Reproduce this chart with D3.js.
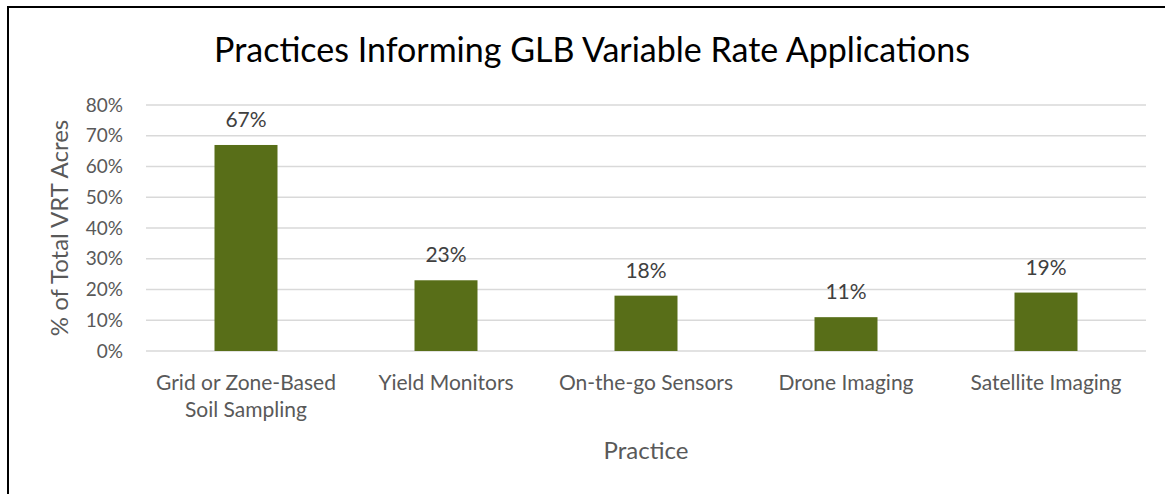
<!DOCTYPE html>
<html>
<head>
<meta charset="utf-8">
<script src="https://cdn.jsdelivr.net/npm/d3@7"></script>
<style>
  body { margin: 0; background: #fff; }
  text { font-family: Lato, "Open Sans", sans-serif; }
</style>
</head>
<body>
<div id="chart"></div>
<script>
// chart data
var categories = ["Grid or Zone-Based\nSoil Sampling", "Yield Monitors", "On-the-go Sensors", "Drone Imaging", "Satellite Imaging"];
var values = [0.67, 0.23, 0.18, 0.11, 0.19];
var yTicks = [0, 0.1, 0.2, 0.3, 0.4, 0.5, 0.6, 0.7, 0.8];

var W = 1165, H = 494;
var margin = {top: 105, right: 19, bottom: 143, left: 146},
  width = W - margin.left - margin.right,
  height = H - margin.top - margin.bottom;

var root = d3.select("#chart").append("svg")
  .attr("width", W)
  .attr("height", H);

// frame (only top and left edges show)
root.append("path")
  .attr("d", "M8,494 V7 H1165")
  .attr("fill", "none")
  .attr("stroke", "#000")
  .attr("stroke-width", 2);

root.append("text")
  .attr("x", 592)
  .attr("y", 62)
  .attr("text-anchor", "middle")
  .style("font-size", "34px")
  .style("fill", "#000")
  .text("Practices Informing GLB Variable Rate Applications");

var svg = root.append("g")
  .attr("transform", "translate(" + margin.left + "," + margin.top + ")");

var x = d3.scaleBand()
  .domain(categories)
  .range([0, width])
  .paddingInner(0.685)
  .paddingOuter(0.3425);

var y = d3.scaleLinear()
  .domain([0, 0.8])
  .range([height, 0]);

// gridlines
svg.selectAll(".grid")
  .data(yTicks)
  .enter().append("line")
  .attr("x1", 0)
  .attr("x2", width)
  .attr("y1", function(d) { return y(d); })
  .attr("y2", function(d) { return y(d); })
  .attr("stroke", "#d9d9d9")
  .attr("stroke-width", 1.5);

// y tick labels
var yAxis = svg.append("g")
  .call(d3.axisLeft(y).tickValues(yTicks).tickFormat(d3.format(".0%")).tickSize(0).tickPadding(23));
yAxis.select(".domain").remove();
yAxis.selectAll("text")
  .style("font-size", "19px")
  .style("font-family", "Lato, 'Open Sans', sans-serif")
  .style("fill", "#595959");

// bars
svg.selectAll(".bar")
  .data(values)
  .enter().append("rect")
  .attr("x", function(d, i) { return x(categories[i]); })
  .attr("y", function(d) { return y(d); })
  .attr("width", x.bandwidth())
  .attr("height", function(d) { return height - y(d); })
  .attr("fill", "#586e18");

// value labels
svg.selectAll(".lbl")
  .data(values)
  .enter().append("text")
  .attr("x", function(d, i) { return x(categories[i]) + x.bandwidth() / 2; })
  .attr("y", function(d) { return y(d) - 18; })
  .attr("text-anchor", "middle")
  .style("font-size", "21px")
  .style("fill", "#404040")
  .text(function(d) { return Math.round(d * 100) + "%"; });

// x category labels
var xl = svg.selectAll(".xl")
  .data(categories)
  .enter().append("text")
  .attr("x", function(d) { return x(d) + x.bandwidth() / 2; })
  .attr("y", height + 39)
  .attr("text-anchor", "middle")
  .style("font-size", "21px")
  .style("fill", "#595959");
xl.each(function(d) {
  var t = d3.select(this);
  d.split("\n").forEach(function(line, k) {
    t.append("tspan")
      .attr("x", t.attr("x"))
      .attr("dy", k == 0 ? 0 : 27)
      .text(line);
  });
});

// axis titles
root.append("text")
  .attr("x", 646)
  .attr("y", 459)
  .attr("text-anchor", "middle")
  .style("font-size", "24px")
  .style("fill", "#595959")
  .text("Practice");

root.append("text")
  .attr("transform", "translate(68," + (margin.top + height / 2) + ") rotate(-90)")
  .attr("text-anchor", "middle")
  .style("font-size", "24px")
  .style("fill", "#595959")
  .text("% of Total VRT Acres");
</script>
</body>
</html>
